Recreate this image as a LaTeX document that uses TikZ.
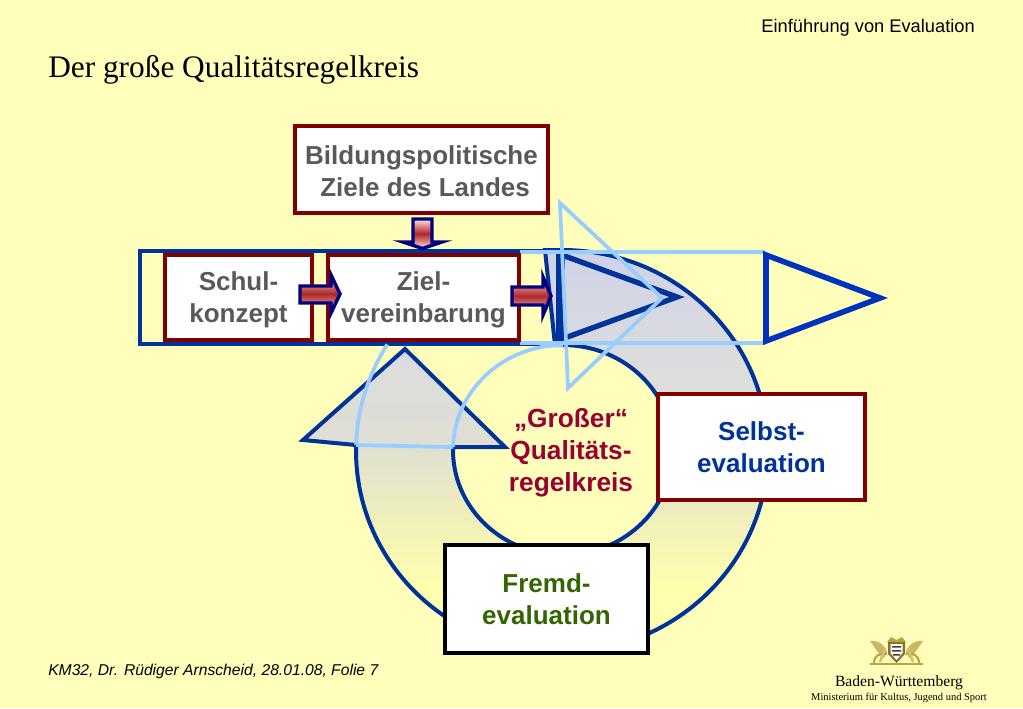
\documentclass[tikz,border=0pt]{standalone}
\usepackage{fontspec}
\setmainfont{Liberation Sans}
\newfontfamily\serifschrift{Liberation Serif}
\usepackage{tikz}
\definecolor{hintergrund}{RGB}{255,255,187}
\definecolor{dunkelblau}{RGB}{0,51,153}
\definecolor{marine}{RGB}{0,0,128}
\definecolor{mittelblau}{RGB}{0,51,187}
\definecolor{hellblau}{RGB}{153,204,255}
\definecolor{dunkelrot}{RGB}{128,0,0}
\definecolor{textgrau}{RGB}{89,89,89}
\definecolor{textrot}{RGB}{153,0,51}
\definecolor{textgruen}{RGB}{51,102,0}
\definecolor{wappengold}{RGB}{190,165,60}
\pgfdeclareverticalshading{ringfarbe}{100bp}{
	rgb(0bp)=(1,1,0.68);
	rgb(32.7bp)=(1,1,0.68);
	rgb(41.4bp)=(0.94,0.94,0.73);
	rgb(51.4bp)=(0.87,0.87,0.83);
	rgb(60bp)=(0.865,0.865,0.865);
	rgb(75bp)=(0.81,0.825,0.91);
	rgb(100bp)=(0.81,0.825,0.91)}
\tikzset{
	kasten/.style={rectangle, draw=dunkelrot, fill=white, line width=3pt, align=center, inner sep=0pt, font=\fontsize{19.5}{24}\selectfont\bfseries},
	ring/.style={line width=3pt, draw=dunkelblau, line join=miter},
	spur/.style={line width=2.8pt, draw=hellblau},
	blockpfeil/.style={line width=2.6pt, draw=marine, top color=red!12!white, bottom color=red!12!white, middle color=dunkelrot!75!red!85!white}
}
\begin{document}
\begin{tikzpicture}[x=0.75pt, y=0.75pt]
		% Hintergrund
		\useasboundingbox (0,0) rectangle (1023,708);
		\fill[hintergrund] (0,0) rectangle (1023,708);
		
		% Kopf und Fuss
		\node[anchor=east, inner sep=0pt, font=\fontsize{13.7}{16}\selectfont] (kopf) at (975,680) {Einführung von Evaluation};
		\node[anchor=west, inner sep=0pt, font=\fontsize{23.5}{28}\selectfont\serifschrift] (titel) at (48,638.5) {Der große Qualitätsregelkreis};
		\node[anchor=west, inner sep=0pt, font=\fontsize{11.75}{14}\selectfont\itshape] (folie) at (48,37) {KM32, Dr. Rüdiger Arnscheid, 28.01.08, Folie 7};
		\node[font=\fontsize{11.7}{14}\selectfont\serifschrift] (land) at (899,25.5) {Baden-Württemberg};
		\node[font=\fontsize{7.85}{9}\selectfont\serifschrift] (ministerium) at (899,10) {Ministerium für Kultus, Jugend und Sport};
		
		% Wappen
		\fill[wappengold] (870,43) rectangle (923,45);
		\fill[wappengold!80!white] (870,67) .. controls (878,68) and (884,64) .. (887,56) -- (884,50) .. controls (878,54) and (875,60) .. cycle;
		\fill[wappengold!80!white] (923,67) .. controls (915,68) and (909,64) .. (906,56) -- (909,50) .. controls (915,54) and (918,60) .. cycle;
		\draw[wappengold, line width=1.6pt] (874,45) .. controls (874,52) and (880,56) .. (887,54) (919,45) .. controls (919,52) and (913,56) .. (906,54);
		\draw[wappengold!70!white, line width=2pt] (880,46) -- (885,60) (913,46) -- (908,60);
		\fill[wappengold] (887,66) -- (891,71) -- (896.5,68) -- (902,71) -- (906,66) -- cycle;
		\fill[wappengold!70!black] (888,66) -- (905,66) -- (905,54) -- (896.5,45) -- (888,54) -- cycle;
		\fill[white] (890.5,64) -- (902.5,64) -- (902.5,55) -- (896.5,48) -- (890.5,55) -- cycle;
		\fill[black!75] (892,62) rectangle (901,60.5) (892,58) rectangle (901,56.5) (893,54) rectangle (900,52.5);
		
		% Grosser Ring mit Pfeilspitze
		\draw[ring, shading=ringfarbe]
			(545,458) -- (562,458) arc[start angle=90, end angle=-181.7, x radius=154.5pt, y radius=150.75pt]
			-- (303,268) -- (405,359) -- (505,261) -- (453.04,260.9)
			arc[start angle=-181.6, end angle=90, x radius=82.5pt, y radius=78.75pt]
			-- (555,363) -- cycle;
		
		% Lange Leiste
		\draw[ring] (140,457) rectangle (558,364);
		
		% Dunkles Dreieck
		\draw[line width=4pt, draw=dunkelblau] (562,453) -- (677,411) -- (562,369) -- cycle;
		\draw[line width=4.5pt, draw=dunkelblau] (561.5,458) -- (561.5,363);
		
		% Helle Spuren
		\draw[spur] (356.1,263) arc[start angle=-181.7, end angle=-212, x radius=154.5pt, y radius=150.75pt];
		\draw[spur] (453.04,260.9) arc[start angle=-181.6, end angle=-270, x radius=82.5pt, y radius=78.75pt];
		\draw[spur] (356.1,263) -- (453.04,260.9);
		\draw[spur] (520,456) -- (765,456);
		\draw[spur] (520,365) -- (765,365);
		\draw[spur, line join=miter] (560,505) -- (662,410) -- (568,320) -- cycle;
		
		% Blaues Dreieck
		\draw[line width=4.2pt, draw=mittelblau] (766,453) -- (880,410) -- (766,367) -- cycle;
		
		% Kaesten
		\node[kasten, text=textgrau, minimum width=189.75pt, minimum height=65.25pt] (ziele) at (421.5,538.5) {\rule{0pt}{16.5pt}Bildungspolitische\\\ Ziele des Landes};
		\node[kasten, text=textgrau, minimum width=110.25pt, minimum height=63.75pt] (schul) at (238.5,410.5) {\rule{0pt}{18pt}Schul-\\konzept};
		\node[kasten, text=textgrau, minimum width=143.25pt, minimum height=63.75pt] (ziel) at (423.5,410.5) {\rule{0pt}{18pt}Ziel-\\vereinbarung};
		\node[kasten, text=dunkelblau, minimum width=155.25pt, minimum height=79.5pt] (selbst) at (761.5,261) {Selbst-\\evaluation};
		\node[kasten, draw=black, text=textgruen, minimum width=152.25pt, minimum height=81pt] (fremd) at (546.5,109) {Fremd-\\evaluation};
		\node[align=center, text=textrot, inner sep=0pt, font=\fontsize{19.7}{24}\selectfont\bfseries] (kreis) at (571,255.5) {„Großer“\\Qualitäts-\\regelkreis};
		
		% Kleine Pfeile
		\draw[blockpfeil] (413,489) -- (432,489) -- (432,466) -- (442,466) -- (422.5,459.5) -- (403,466) -- (413,466) -- cycle;
		\draw[blockpfeil] (300,422) -- (331,422) -- (331,433) -- (340,414) -- (331,395) -- (331,405) -- (300,405) -- cycle;
		\draw[blockpfeil] (512,421) -- (543,421) -- (543,431) -- (551,412) -- (543,393) -- (543,403) -- (512,403) -- cycle;
		
	\end{tikzpicture}
\end{document}
